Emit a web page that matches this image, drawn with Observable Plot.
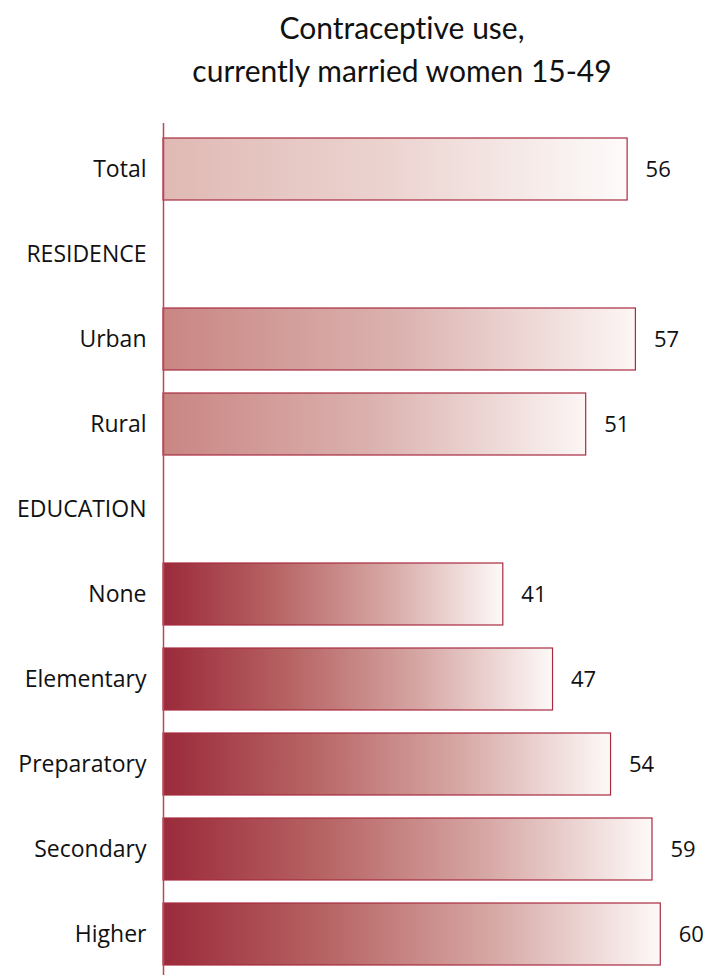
<!DOCTYPE html>
<html>
<head>
<meta charset="utf-8">
<script src="https://cdn.jsdelivr.net/npm/d3@7"></script>
<script src="https://cdn.jsdelivr.net/npm/@observablehq/plot@0.6"></script>
<style>
  body { margin: 0; background: #fff; font-family: "Open Sans", sans-serif; }
  #title { height: 120px; box-sizing: border-box; padding-top: 6px; padding-left: 94px; text-align: center; font-family: Lato, sans-serif; font-size: 30px; line-height: 43px; color: #111; font-variant-ligatures: none; }
  svg { display: block; overflow: hidden; }
</style>
</head>
<body>
<div id="title">Contraceptive use,<br>currently married women 15-49</div>
<div id="chart"></div>
<script>
const categories = ["Total", "RESIDENCE", "Urban", "Rural", "EDUCATION", "None", "Elementary", "Preparatory", "Secondary", "Higher"];
const values = [56, null, 57, 51, null, 41, 47, 54, 59, 60];
const groups = ["total", "header", "residence", "residence", "header", "education", "education", "education", "education", "education"];

const rows = categories.map((c, i) => ({category: c, value: values[i], group: groups[i]}));
const bars = rows.filter(d => d.value != null);

const gradients = {
  total: [[0, "#e0b9b4"], [0.5, "#ecd4d1"], [1, "#fdfbfa"]],
  residence: [[0, "#c98683"], [0.5, "#dbb2af"], [1, "#fcf6f5"]],
  education: [[0, "#9b2a3a"], [0.33, "#b76464"], [0.66, "#d6a7a4"], [1, "#fdf9f8"]]
};

const stroke = "#a92b40";

const plot = Plot.plot({
  width: 710,
  height: 855,
  marginTop: 3,
  marginBottom: 0,
  marginLeft: 163,
  marginRight: 0,
  x: {domain: [0, 66], axis: null},
  y: {domain: categories, range: [5, 858], paddingInner: 0.27, paddingOuter: 0.135, label: null},
  style: {fontFamily: "'Open Sans', sans-serif", fontSize: "23px", color: "#111"},
  marks: [
    Plot.axisY({tickSize: 0, tickPadding: 17, fontSize: 23, label: null}),
    ...Object.keys(gradients).map(g =>
      Plot.barX(bars.filter(d => d.group === g), {
        x: "value", y: "category", fill: `url(#grad-${g})`, stroke, strokeWidth: 1.2
      })
    ),
    Plot.ruleX([0], {stroke: "#b8475a", strokeWidth: 1.5}),
    Plot.text(bars, {x: "value", y: "category", text: d => String(d.value), dx: 18, textAnchor: "start", fontSize: 22, fill: "#111"})
  ]
});

const svg = d3.select(plot);
const defs = svg.insert("defs", ":first-child");
for (const [g, stops] of Object.entries(gradients)) {
  const lg = defs.append("linearGradient").attr("id", `grad-${g}`)
    .attr("x1", 0).attr("x2", 1).attr("y1", 0).attr("y2", 0);
  for (const [o, c] of stops) lg.append("stop").attr("offset", o).attr("stop-color", c);
}
document.getElementById("chart").append(plot);
</script>
</body>
</html>
